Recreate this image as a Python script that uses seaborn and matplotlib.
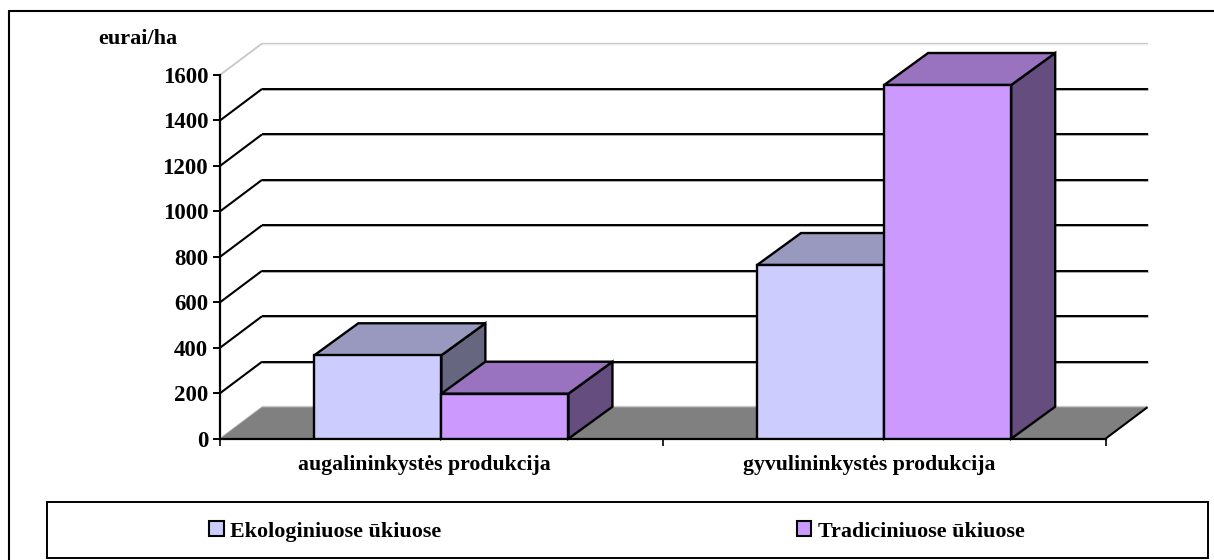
import matplotlib
matplotlib.use("Agg")
import matplotlib.pyplot as plt
import pandas as pd
import seaborn as sns
from matplotlib.lines import Line2D
from matplotlib.patches import Polygon, Rectangle
from matplotlib.transforms import IdentityTransform, ScaledTranslation

categories = ["augalininkystės produkcija", "gyvulininkystės produkcija"]
series_names = ["Ekologiniuose ūkiuose", "Tradiciniuose ūkiuose"]
eco_values = [367, 764]
trad_values = [198, 1556]
y_ticks = [0, 200, 400, 600, 800, 1000, 1200, 1400, 1600]
unit_label = "eurai/ha"

front_colors = ["#CCCCFF", "#CC99FF"]
top_colors = ["#9999BF", "#9973BF"]
side_colors = ["#666680", "#664D80"]

W, H = 1214, 560
sns.set_theme(style="white")
plt.rcParams["font.family"] = ["Liberation Serif", "DejaVu Serif"]
plt.rcParams["font.weight"] = "bold"

fig = plt.figure(figsize=(W / 100, H / 100), dpi=100, facecolor="white")
fx = lambda p: p / W
fy = lambda p: 1 - p / H

AX_L, AX_R, AX_T, AX_B = 220, 1105.5, 75, 438.7
ax = fig.add_axes([fx(AX_L), fy(AX_B), fx(AX_R - AX_L), (AX_B - AX_T) / H])
ax.patch.set_visible(False)

df = pd.DataFrame({
    "category": categories * 2,
    "series": [series_names[0]] * 2 + [series_names[1]] * 2,
    "value": eco_values + trad_values,
})
sns.barplot(data=df, x="category", y="value", hue="series", order=categories,
            hue_order=series_names, palette=front_colors, width=0.574, gap=0,
            edgecolor="black", linewidth=1.7, saturation=1, ax=ax)
handles, labels = ax.get_legend_handles_labels()
ax.get_legend().remove()

ax.set_xlim(-0.5, 1.5)
ax.set_ylim(0, 1600)
ax.set_yticks(y_ticks)
ax.set_xlabel("")
ax.set_ylabel("")
ax.set_xticks([-0.5, 0.5, 1.5], minor=True)
for s in ("top", "right"):
    ax.spines[s].set_visible(False)
for s in ("left", "bottom"):
    ax.spines[s].set_color("black")
    ax.spines[s].set_linewidth(1.6)
ax.tick_params(axis="y", which="major", left=True, length=5, width=1.4, color="black",
               labelsize=16.5, pad=3.5, labelcolor="black")
ax.tick_params(axis="x", which="major", bottom=False, length=0, labelsize=15.7, pad=12,
               labelcolor="black")
ax.tick_params(axis="x", which="minor", bottom=True, length=5, width=1.2, color="black")
for lab, off in zip(ax.get_xticklabels(), (-16.5, -15)):
    lab.set_transform(lab.get_transform() + ScaledTranslation(off / 100, 0, fig.dpi_scale_trans))

px = IdentityTransform()
WALL_DX, WALL_DY = 42, 31.5
BAR_DX, BAR_DY = 44, 32


def to_px(x, y):
    return ax.transData.transform((x, y))


def poly(points, color, z, edge="black", lw=1.7):
    ax.add_patch(Polygon(points, closed=True, facecolor=color, edgecolor=edge, linewidth=lw,
                         transform=px, clip_on=False, zorder=z, joinstyle="miter"))


def seg(a, b, color, lw, z):
    ax.add_line(Line2D([a[0], b[0]], [a[1], b[1]], color=color, linewidth=lw, transform=px,
                       clip_on=False, zorder=z, solid_capstyle="butt"))


# floor
x0, x1 = ax.get_xlim()
fl, fr = to_px(x0, 0), to_px(x1, 0)
off_w = (WALL_DX, WALL_DY)
poly([fl, fr, fr + off_w, fl + off_w], "#808080", 1.0, edge="none", lw=0)
seg(fr, fr + off_w, "black", 1.5, 1.2)

# wall grid lines and their slanted returns
for t in y_ticks:
    a = to_px(x0, t)
    b = a + off_w
    c = to_px(x1, t) + off_w
    if t in (y_ticks[0], y_ticks[-1]):
        seg(a, b, "#c8c8c8", 1.3, 0.9)
        seg(b, c, "#c8c8c8", 1.6, 0.9)
        seg(b, c, "white", 0.5, 0.95)
    else:
        seg(a, b, "black", 1.5, 1.1)
        seg(b, c, "#a0a0a0", 2.0, 0.9)
        seg(b, c, "black", 1.4, 1.1)

# 3-D faces of the bars, from the bars seaborn drew
off_b = (BAR_DX, BAR_DY)
z = 3.0
for k, container in enumerate(ax.containers):
    for bar in container:
        xa, w, h = bar.get_x(), bar.get_width(), bar.get_height()
        bl, br = to_px(xa, 0), to_px(xa + w, 0)
        tl, tr = to_px(xa, h), to_px(xa + w, h)
        poly([br, tr, tr + off_b, br + off_b], side_colors[k], z)
        poly([tl, tr, tr + off_b, tl + off_b], top_colors[k], z + 0.1)
        bar.set_zorder(z + 0.2)
        z += 1

# unit label
fig.text(fx(138), fy(38.5), unit_label, ha="center", va="center", fontsize=16, color="black")

# legend box
fig.add_artist(Rectangle((fx(47), fy(558)), fx(1207.5 - 47), (558 - 501.5) / H, transform=fig.transFigure,
                         facecolor="white", edgecolor="black", linewidth=1.4))
leg = fig.legend(handles, labels, ncol=2, loc="center", bbox_to_anchor=(fx(617), fy(531.5)),
                 frameon=False, fontsize=15.8, handlelength=0.65, handleheight=0.65,
                 handletextpad=0.3, columnspacing=16.2, borderpad=0, labelcolor="black")
for h in leg.legend_handles:
    h.set_edgecolor("black")
    h.set_linewidth(1.5)

# outer frame
fig.add_artist(Line2D([fx(9), fx(9), fx(W)], [0, fy(11), fy(11)], color="black", linewidth=1.5,
                      transform=fig.transFigure, solid_joinstyle="miter"))

fig.savefig("out.png", dpi=100, facecolor="white")
